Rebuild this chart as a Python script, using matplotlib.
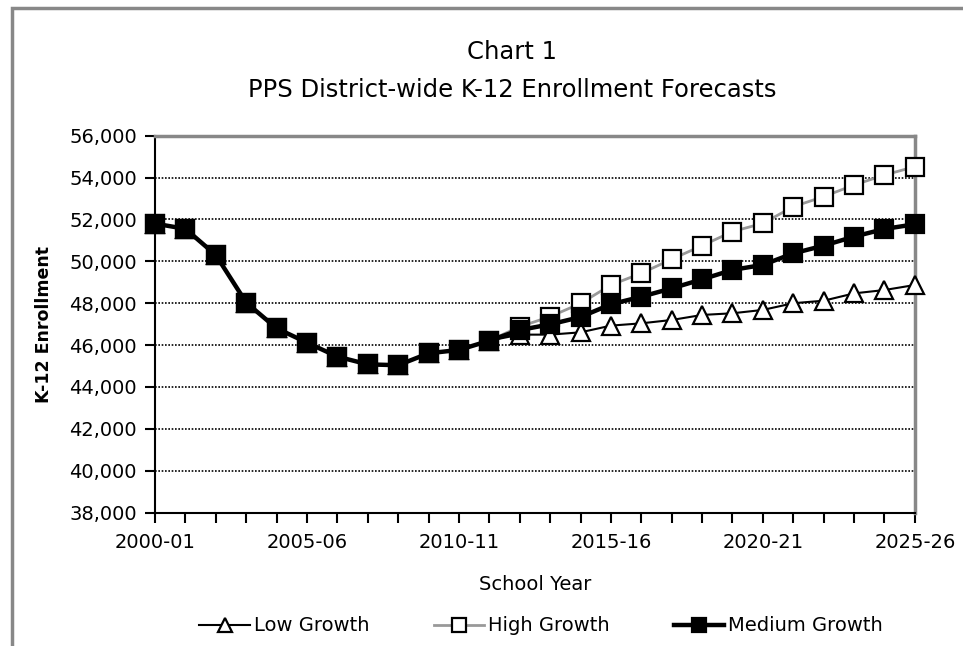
import numpy as np
import matplotlib
matplotlib.use("Agg")
from matplotlib import pyplot as plt
from matplotlib.patches import Rectangle

plt.rcParams['font.family'] = ['DejaVu Sans']

# school years 2000-01 .. 2025-26
years = ["%d-%02d" % (y, (y + 1) % 100) for y in range(2000, 2026)]

# enrollment (history shared by all three series)
history = [51800, 51550, 50300, 48030, 46800, 46120, 45450, 45080, 45040,
           45610, 45770, 46210]
low = history + [46500, 46500, 46610, 46930, 47040, 47200, 47440, 47520,
                 47680, 48000, 48120, 48470, 48630, 48870]
high = history + [46880, 47360, 47990, 48870, 49430, 50100, 50750, 51420,
                  51815, 52610, 53090, 53645, 54120, 54520]
medium = history + [46720, 46990, 47340, 47950, 48310, 48710, 49140, 49590,
                    49830, 50380, 50750, 51180, 51545, 51770]

fig = plt.figure(figsize=(9.63, 6.46), dpi=100)
ax = fig.add_axes([0.161, 0.2064, 0.789, 0.5836])

x = np.arange(len(years))

ax.plot(x, low, '-', color='black', lw=1.5, marker='^', ms=13,
        mfc='white', mec='black', mew=1.6, label='Low Growth', zorder=3,
        clip_on=False)
ax.plot(x, high, '-', color='#999999', lw=2, marker='s', ms=12.5,
        mfc='white', mec='black', mew=1.6, label='High Growth', zorder=4,
        clip_on=False)
ax.plot(x, medium, '-', color='black', lw=3.2, marker='s', ms=12.5,
        mfc='black', mec='black', mew=1.6, label='Medium Growth', zorder=5,
        clip_on=False)

ax.set_xlim(0, len(years) - 1)
ax.set_ylim(38000, 56000)
ax.set_yticks(np.arange(38000, 56001, 2000))
ax.set_yticklabels(["{:,}".format(v) for v in range(38000, 56001, 2000)])
ax.set_xticks(x)
ax.set_xticklabels([years[i] if i % 5 == 0 else '' for i in x])
ax.tick_params(axis='both', direction='out', length=7, width=1.5,
               labelsize=14, colors='black')
ax.tick_params(axis='x', pad=8)
ax.tick_params(axis='y', pad=6)

ax.yaxis.grid(True, color='black', linestyle=(0, (1, 1)), lw=1.2)
ax.set_axisbelow(True)

for s in ['left', 'bottom']:
    ax.spines[s].set_color('black')
    ax.spines[s].set_linewidth(1.5)
for s in ['top', 'right']:
    ax.spines[s].set_color('#888888')
    ax.spines[s].set_linewidth(2.5)

ax.set_xlabel('School Year', fontsize=14, labelpad=16)
ax.set_ylabel('K-12 Enrollment', fontsize=12.5, fontweight='bold', labelpad=12)

fig.text(0.532, 0.919, 'Chart 1', ha='center', va='center', fontsize=17.5)
fig.text(0.532, 0.861, 'PPS District-wide K-12 Enrollment Forecasts',
         ha='center', va='center', fontsize=17.5)

fig.legend(loc='center', bbox_to_anchor=(0.562, 0.031), ncol=3,
           frameon=False, fontsize=14, handlelength=2.6, columnspacing=3.3,
           handletextpad=0.2, markerscale=0.8)

# outer chart border
fig.patches.append(Rectangle((12 / 963, -0.1), 1.2, 1 - 8 / 646 + 0.1,
                             transform=fig.transFigure, fill=False,
                             edgecolor='#888888', lw=2.5))

fig.savefig('out.png', dpi=100)
